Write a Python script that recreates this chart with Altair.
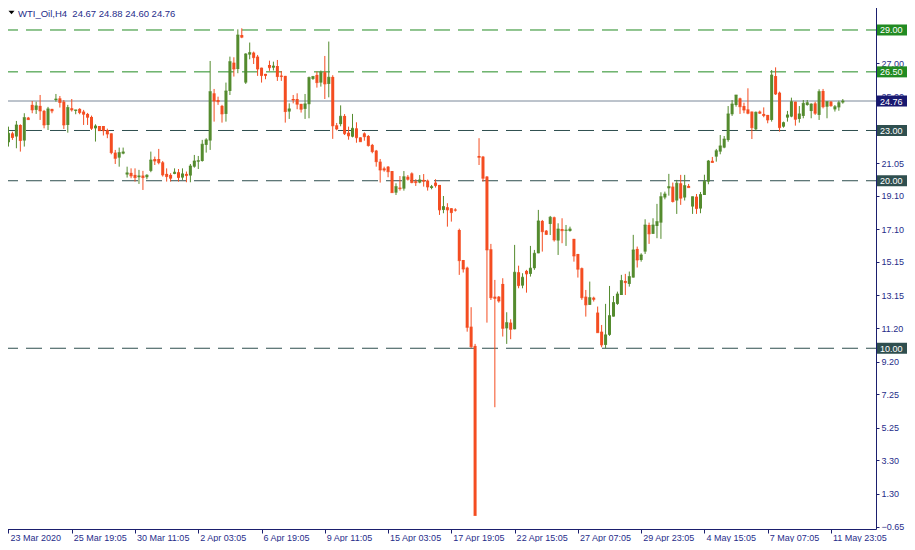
import altair as alt
import pandas as pd

# ---- OHLC data (H4 candles) ----
opens = [22.30, 22.83, 22.64, 23.33, 22.40, 23.77, 24.53, 24.23, 24.47, 24.17,
         23.33, 24.29, 24.82, 24.92, 24.72, 23.33, 24.33, 24.17, 24.29, 24.13,
         23.99, 23.81, 23.13, 23.27, 23.27, 23.03, 22.83, 21.68, 21.38, 21.62,
         20.37, 20.47, 20.35, 20.21, 20.31, 20.21, 20.59, 21.30, 21.30, 21.10,
         20.41, 20.35, 20.41, 20.51, 20.19, 20.41, 20.31, 20.84, 21.14, 21.18,
         22.14, 22.40, 25.22, 24.82, 24.47, 23.99, 25.36, 27.05, 26.67, 28.70,
         25.86, 27.53, 27.65, 27.41, 26.75, 26.38, 26.91, 26.75, 26.85, 26.28,
         26.26, 24.13, 24.88, 24.88, 24.59, 24.29, 24.57, 26.08, 26.32, 25.86,
         26.48, 25.78, 26.20, 23.31, 23.38, 23.87, 22.87, 22.63, 23.13, 22.59,
         22.83, 22.67, 22.14, 21.80, 21.14, 20.74, 20.84, 20.58, 19.29, 19.59,
         19.53, 20.24, 20.44, 19.97, 19.89, 20.05, 20.01, 19.57, 19.89, 19.75,
         18.26, 18.42, 18.36, 18.28, 17.06, 15.27, 14.81, 11.29, 10.14, 21.48,
         21.44, 20.25, 15.91, 13.08, 13.08, 13.84, 11.19, 11.53, 11.13, 14.54,
         13.74, 14.62, 14.44, 14.78, 15.67, 17.60, 17.02, 17.42, 17.82, 16.43,
         17.12, 17.02, 17.00, 16.53, 15.63, 14.78, 13.08, 12.59, 13.02, 12.13,
         10.99, 10.20, 10.80, 11.89, 12.65, 13.18, 14.02, 13.84, 14.22, 15.93,
         15.27, 15.77, 17.36, 16.83, 17.30, 17.50, 19.00, 19.55, 19.65, 18.82,
         19.85, 19.00, 19.69, 18.46, 19.05, 18.34, 19.15, 19.95, 21.19, 21.44,
         21.74, 21.98, 22.43, 23.97, 24.52, 24.92, 24.46, 24.26, 24.13, 23.07,
         24.13, 23.99, 23.93, 23.63, 26.25, 25.26, 23.23, 23.77, 23.83, 24.72,
         23.69, 23.87, 24.52, 24.16, 24.62, 23.93, 25.36, 24.42, 24.72, 24.26,
         24.38, 24.67]
highs = [23.23, 22.93, 23.57, 23.37, 24.03, 23.81, 24.76, 24.72, 25.12, 24.23,
         24.41, 24.29, 25.18, 25.06, 24.82, 24.53, 24.88, 24.23, 24.33, 24.23,
         24.05, 23.89, 23.37, 23.27, 23.27, 23.11, 22.83, 21.84, 21.98, 21.98,
         20.84, 20.74, 20.74, 20.65, 20.59, 20.39, 21.74, 21.44, 21.90, 21.18,
         20.74, 20.45, 20.74, 20.70, 20.74, 20.55, 21.00, 21.54, 21.48, 22.44,
         22.54, 27.15, 25.48, 25.02, 24.53, 25.86, 27.41, 27.37, 29.04, 29.10,
         27.61, 28.25, 27.71, 27.51, 26.75, 26.38, 27.17, 27.11, 27.21, 26.55,
         26.26, 24.62, 25.12, 25.22, 24.59, 25.18, 26.22, 26.26, 26.52, 26.58,
         27.45, 28.31, 26.30, 23.45, 24.50, 23.98, 23.23, 23.99, 23.49, 22.59,
         22.89, 22.73, 22.20, 21.84, 21.30, 20.84, 20.88, 20.58, 19.85, 20.28,
         20.58, 20.34, 20.50, 20.09, 20.34, 20.40, 20.07, 19.75, 20.09, 19.75,
         19.09, 18.66, 18.36, 18.36, 17.14, 15.27, 14.87, 12.45, 10.26, 22.54,
         21.48, 20.28, 16.23, 14.08, 13.12, 14.18, 12.15, 11.73, 16.17, 14.93,
         14.48, 14.68, 16.11, 15.87, 18.26, 17.66, 17.06, 17.90, 17.86, 17.46,
         17.76, 17.36, 17.26, 16.53, 15.63, 14.82, 13.48, 13.98, 13.08, 12.49,
         11.39, 12.65, 13.72, 13.12, 13.38, 14.38, 14.44, 14.58, 16.77, 16.07,
         15.67, 17.70, 17.50, 17.76, 18.62, 19.31, 19.35, 20.41, 19.89, 20.05,
         20.35, 20.35, 19.81, 19.05, 19.21, 19.33, 20.36, 21.24, 21.42, 21.90,
         22.73, 22.67, 24.46, 24.82, 25.12, 24.96, 24.66, 25.52, 24.13, 24.13,
         24.19, 24.38, 23.93, 26.61, 26.77, 25.32, 23.53, 24.17, 24.96, 24.72,
         24.46, 24.82, 24.82, 24.62, 24.72, 25.46, 25.48, 24.76, 24.76, 24.52,
         24.78, 24.88]
lows = [22.04, 22.44, 21.94, 21.74, 22.04, 23.63, 24.03, 23.99, 23.63, 23.13,
        23.03, 24.03, 24.72, 24.37, 23.09, 22.87, 24.13, 23.97, 23.97, 23.33,
        23.33, 23.03, 22.34, 22.99, 22.70, 22.54, 21.58, 21.00, 20.84, 21.58,
        20.19, 20.15, 19.95, 19.81, 19.45, 20.09, 20.51, 20.94, 20.98, 20.25,
        19.95, 19.95, 20.39, 19.95, 20.05, 19.91, 19.91, 20.78, 20.70, 21.14,
        21.68, 21.84, 23.53, 24.53, 23.47, 23.53, 25.12, 26.22, 26.42, 28.51,
        25.78, 27.25, 26.97, 26.26, 25.86, 26.06, 26.56, 26.58, 25.96, 25.96,
        23.47, 23.69, 24.62, 24.27, 24.07, 23.69, 23.73, 26.02, 25.56, 25.62,
        24.88, 24.98, 22.50, 23.01, 23.25, 22.73, 22.45, 22.59, 22.27, 22.33,
        22.39, 22.04, 21.64, 20.84, 19.89, 20.54, 20.21, 19.29, 19.15, 19.41,
        19.41, 20.01, 19.85, 19.69, 19.85, 19.65, 19.41, 19.49, 19.59, 17.96,
        18.06, 17.26, 17.56, 18.16, 14.38, 14.52, 10.99, 10.00, 0.00, 20.94,
        19.95, 11.53, 12.88, 6.48, 12.72, 10.70, 10.26, 10.54, 11.13, 13.58,
        13.58, 13.32, 14.28, 14.68, 15.67, 15.77, 16.76, 16.76, 16.37, 15.57,
        16.27, 16.11, 16.96, 15.17, 14.22, 12.89, 11.89, 12.59, 12.79, 10.93,
        10.06, 10.00, 10.74, 11.89, 12.59, 13.18, 13.18, 13.68, 14.22, 14.82,
        15.17, 15.63, 16.23, 16.83, 16.57, 16.53, 18.89, 19.11, 18.70, 18.02,
        18.56, 18.82, 19.59, 18.02, 18.02, 18.06, 19.15, 19.79, 21.09, 21.14,
        21.58, 21.94, 22.33, 23.87, 24.42, 23.99, 24.03, 23.97, 22.49, 22.99,
        23.99, 23.79, 23.43, 23.53, 25.12, 22.93, 23.17, 23.53, 23.79, 23.29,
        23.47, 23.73, 24.48, 23.73, 23.93, 23.63, 24.32, 23.73, 24.42, 24.13,
        24.18, 24.60]
closes = [22.83, 22.58, 23.33, 22.40, 23.77, 23.65, 24.23, 24.47, 24.17, 23.33,
          24.29, 24.17, 24.88, 24.67, 23.33, 24.37, 24.23, 24.23, 24.07, 23.97,
          23.79, 23.13, 23.27, 22.99, 22.99, 22.79, 21.68, 21.34, 21.68, 21.72,
          20.47, 20.29, 20.19, 20.29, 20.19, 20.33, 21.24, 21.18, 21.08, 20.35,
          20.25, 20.15, 20.51, 20.19, 20.41, 20.31, 20.88, 21.18, 21.20, 22.18,
          22.44, 25.32, 24.76, 24.72, 23.99, 25.36, 27.11, 26.67, 28.70, 28.57,
          27.57, 27.65, 27.35, 26.67, 26.28, 26.28, 26.75, 26.85, 26.22, 26.22,
          24.13, 24.29, 24.82, 24.57, 24.27, 24.59, 26.16, 26.22, 25.86, 26.48,
          25.78, 26.18, 23.28, 23.09, 23.85, 22.81, 22.68, 23.13, 22.57, 22.33,
          22.63, 22.10, 21.74, 21.14, 20.64, 20.64, 20.54, 19.29, 19.65, 19.53,
          20.24, 20.09, 19.89, 19.89, 20.05, 19.97, 19.63, 19.65, 19.71, 18.26,
          18.46, 18.26, 18.10, 18.24, 15.23, 14.73, 11.25, 10.10, 0.02, 21.40,
          20.15, 15.87, 13.02, 12.98, 12.82, 11.19, 11.53, 11.13, 14.54, 13.74,
          14.24, 14.44, 14.78, 15.67, 17.60, 16.96, 16.80, 17.82, 16.47, 17.12,
          17.02, 17.06, 17.12, 15.51, 14.72, 13.02, 12.59, 13.02, 12.92, 10.93,
          10.20, 10.80, 11.95, 12.73, 13.24, 14.04, 13.92, 14.28, 15.87, 15.27,
          15.57, 17.36, 16.83, 17.36, 17.56, 19.05, 19.21, 19.65, 18.76, 19.85,
          18.96, 19.71, 19.59, 19.05, 18.34, 19.18, 19.97, 21.18, 21.09, 21.79,
          22.08, 22.49, 23.99, 24.58, 25.12, 24.42, 24.22, 24.03, 23.17, 24.09,
          24.03, 23.89, 23.63, 26.31, 25.18, 23.17, 23.47, 23.93, 24.72, 23.67,
          23.99, 24.62, 24.66, 24.58, 24.03, 25.32, 24.42, 24.72, 24.48, 24.42,
          24.66, 24.76]

# ---- axis labels ----
time_tick_index = [0, 16, 32, 48, 64, 80, 96, 112, 128, 144, 160, 176, 192, 208]
time_tick_labels = ["23 Mar 2020", "25 Mar 19:05", "30 Mar 11:05", "2 Apr 03:05",
                    "6 Apr 19:05", "9 Apr 11:05", "15 Apr 03:05", "17 Apr 19:05",
                    "22 Apr 15:05", "27 Apr 07:05", "29 Apr 23:05", "4 May 15:05",
                    "7 May 07:05", "11 May 23:05"]
price_ticks = [-0.65, 1.30, 3.30, 5.25, 7.25, 9.20, 11.20, 13.15, 15.15, 17.10,
               19.10, 21.05, 23.05, 25.00, 27.00, 28.95]

resistance_levels = [29.00, 26.50]
support_levels = [23.00, 20.00, 10.00]
last_price = [24.76]
title_text = "WTI_Oil,H4\u00a0\u00a024.67 24.88 24.60 24.76"

# ---- styles ----
UP = "#548B2E"
DOWN = "#F44D21"
NAVY = "#1B1F6E"
TXT = "#1F2D8A"
GREEN_LVL = "#228B22"
SLATE = "#2F4F4F"
FONT = "Liberation Sans"

df = pd.DataFrame({"i": list(range(len(opens))), "open": opens, "high": highs,
                   "low": lows, "close": closes})
df["dir"] = ["up" if c >= o else "down" for o, c in zip(opens, closes)]

W, H = 874, 530
xscale = alt.Scale(domain=[-0.375, 218.125], nice=False, zero=False)
yscale = alt.Scale(domain=[-0.79, 30.85], nice=False, zero=False)
color = alt.Color("dir:N", scale=alt.Scale(domain=["up", "down"], range=[UP, DOWN]), legend=None)

label_expr = ""
for idx, lab in zip(time_tick_index, time_tick_labels):
    label_expr += f"datum.value == {idx} ? '{lab}' : "
label_expr += "''"

xaxis = alt.Axis(values=time_tick_index, labelExpr=label_expr, title=None, grid=False,
                 domain=False, ticks=True, tickSize=4, tickColor=NAVY, labelAlign="left",
                 labelBaseline="alphabetic", labelPadding=7, labelOffset=1.5,
                 labelFont=FONT, labelFontSize=9, labelColor=TXT,
                 labelFlush=False, labelOverlap=False, zindex=0)
yaxis = alt.Axis(orient="right", values=price_ticks, format=".2f", title=None, grid=False,
                 domain=False, tickSize=3, tickColor=NAVY, labelPadding=2, labelFont=FONT,
                 labelFontSize=9, labelColor=TXT, labelFlush=False, labelOverlap=False,
                 labelBaseline="middle", zindex=0)

base = alt.Chart(df)

wicks = base.mark_rule(strokeWidth=1).encode(
    x=alt.X("i:Q", scale=xscale, axis=xaxis),
    y=alt.Y("low:Q", scale=yscale, axis=yaxis),
    y2="high:Q",
    color=color,
)
bodies = base.mark_bar(size=3).encode(
    x=alt.X("i:Q", scale=xscale, axis=xaxis),
    y=alt.Y("open:Q", scale=yscale, axis=yaxis),
    y2="close:Q",
    color=color,
)
doji = base.mark_tick(orient="horizontal", size=3, thickness=1).encode(
    x=alt.X("i:Q", scale=xscale, axis=xaxis),
    y=alt.Y("close:Q", scale=yscale, axis=yaxis),
    color=color,
)

res_df = pd.DataFrame({"p": resistance_levels, "lab": [f"{v:.2f}" for v in resistance_levels]})
sup_df = pd.DataFrame({"p": support_levels, "lab": [f"{v:.2f}" for v in support_levels]})
last_df = pd.DataFrame({"p": last_price, "lab": [f"{v:.2f}" for v in last_price]})


def level_layers(d, line_color, box_color, dash):
    c = alt.Chart(d)
    rule_kwargs = dict(color=line_color, strokeWidth=1)
    if dash:
        rule_kwargs["strokeDash"] = [16, 8]
    line = c.mark_rule(**rule_kwargs).encode(
        x=alt.value(0), x2=alt.value(W), y=alt.Y("p:Q", scale=yscale, axis=yaxis))
    box = c.mark_tick(orient="horizontal", size=31, thickness=11, color=box_color, opacity=1).encode(
        x=alt.value(W + 16.5), y=alt.Y("p:Q", scale=yscale, axis=yaxis))
    txt = c.mark_text(align="left", baseline="middle", font=FONT, fontSize=9, color="white", dy=0.5).encode(
        x=alt.value(W + 4), y=alt.Y("p:Q", scale=yscale, axis=yaxis), text="lab:N")
    return line, box, txt


r_line, r_box, r_txt = level_layers(res_df, GREEN_LVL, GREEN_LVL, True)
s_line, s_box, s_txt = level_layers(sup_df, SLATE, SLATE, True)
l_line, l_box, l_txt = level_layers(last_df, "#7A8899", "#191970", False)

title_df = pd.DataFrame({"t": [title_text]})
tri = alt.Chart(title_df).mark_point(shape="M-1,-0.6L1,-0.6L0,0.6Z", filled=True, size=36,
                                      color="black", opacity=1).encode(
    x=alt.value(9.5), y=alt.value(13.5))
title = alt.Chart(title_df).mark_text(align="left", baseline="alphabetic", font=FONT, fontSize=9.5,
                                       color=TXT).encode(
    x=alt.value(16), y=alt.value(17.7), text="t:N")

chart = alt.layer(
    s_line, r_line, l_line, wicks, bodies, doji,
    r_box, s_box, l_box, r_txt, s_txt, l_txt, tri, title,
).properties(
    width=W, height=H,
    autosize=alt.AutoSizeParams(type="none"),
    padding={"left": -6, "top": -9, "right": 31, "bottom": 13},
    background="white",
).configure_view(stroke=NAVY, strokeWidth=1).configure_axis(
    labelOverlap=False, labelFlush=False
).resolve_scale(color="independent")

chart.save("out.html", embed_options={"renderer": "svg", "actions": False})
